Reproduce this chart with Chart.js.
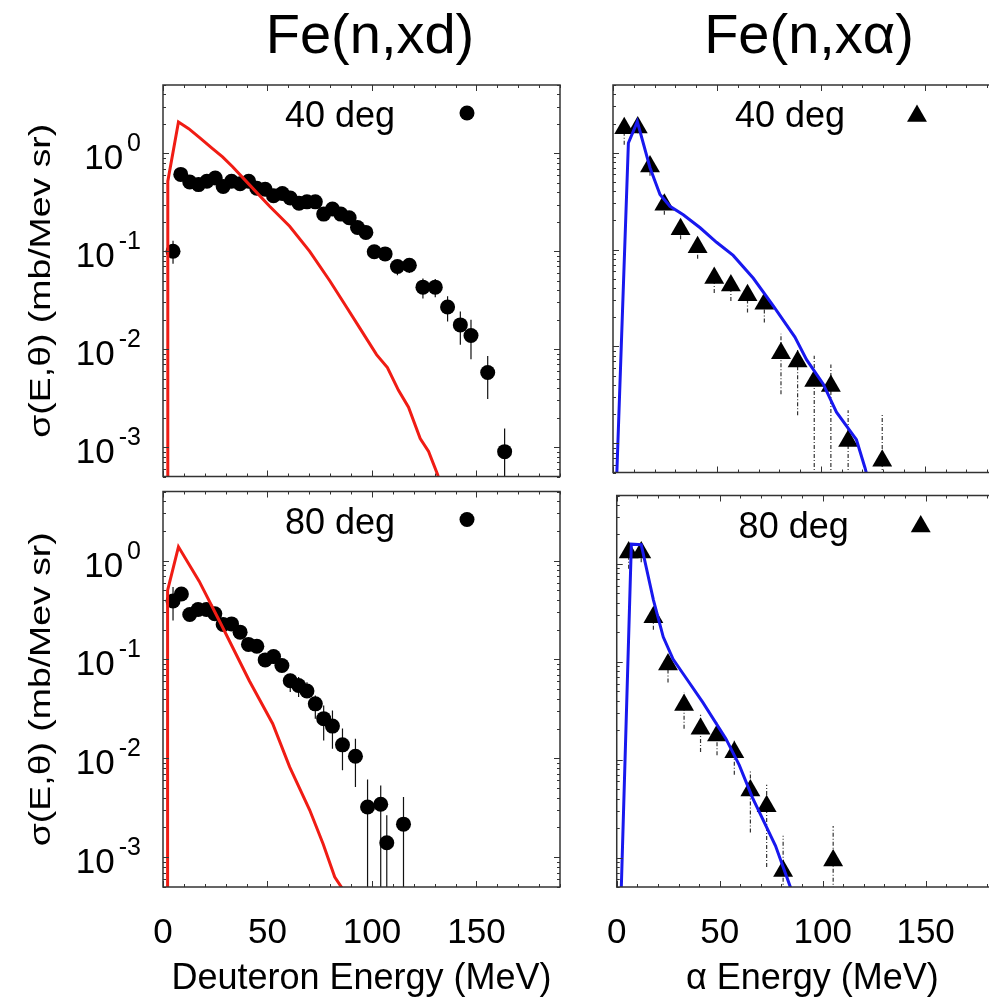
<!DOCTYPE html>
<html>
<head>
<meta charset="utf-8">
<script src="https://cdn.jsdelivr.net/npm/chart.js@4.4.1/dist/chart.umd.min.js"></script>
<style>
  html, body { margin: 0; padding: 0; background: #fff; overflow: hidden; }
  #wrap { position: relative; width: 989px; height: 1001px; overflow: hidden; background: #fff; }
  canvas { position: absolute; }
</style>
</head>
<body>
<div id="wrap">
  <canvas id="tl" width="580" height="484" style="left:0;top:0"></canvas>
  <canvas id="bl" width="580" height="517" style="left:0;top:484px"></canvas>
  <canvas id="tr" width="430" height="484" style="left:590px;top:0"></canvas>
  <canvas id="br" width="430" height="517" style="left:590px;top:484px"></canvas>
</div>
<script>
const FONT = '"Liberation Sans", Arial, Helvetica, sans-serif';

// axis setup
const xTickVals = [0, 50, 100, 150];
const yDecades = [-4, -3, -2, -1, 0];
const yLabelExp = ["0", "-1", "-2", "-3"];
const yTitle = "σ(E,θ) (mb/Mev sr)";

// Fe(n,xd) 40 deg - data points
const d40E = [4.8, 8.5, 12.8, 17.0, 21.0, 25.0, 28.8, 32.8, 36.9, 41.0, 44.9, 48.9, 52.9, 57.1, 60.9, 65.1, 68.9, 72.9, 76.9, 81.1, 85.1, 89.1, 93.1, 97.1, 101.1, 106.3, 112.2, 117.9, 124.4, 130.3, 136.2, 142.3, 147.4, 155.4, 163.5];
const d40V = [0.10, 0.61, 0.51, 0.48, 0.52, 0.56, 0.46, 0.52, 0.49, 0.52, 0.44, 0.43, 0.37, 0.39, 0.35, 0.31, 0.32, 0.32, 0.24, 0.27, 0.24, 0.22, 0.175, 0.156, 0.099, 0.094, 0.070, 0.072, 0.043, 0.043, 0.027, 0.0177, 0.0138, 0.00577, 0.000897];
const d40Lo = [0.0745, 0.55, 0.46, 0.43, 0.47, 0.50, 0.41, 0.47, 0.44, 0.47, 0.39, 0.38, 0.33, 0.35, 0.31, 0.28, 0.29, 0.29, 0.21, 0.24, 0.21, 0.195, 0.155, 0.138, 0.086, 0.082, 0.0568, 0.060, 0.033, 0.034, 0.0192, 0.0111, 0.00787, 0.0031, 0.0003];
const d40Hi = [0.128, 0.68, 0.57, 0.54, 0.58, 0.62, 0.51, 0.58, 0.55, 0.58, 0.49, 0.48, 0.41, 0.44, 0.39, 0.35, 0.36, 0.36, 0.27, 0.30, 0.27, 0.25, 0.20, 0.177, 0.113, 0.107, 0.0774, 0.083, 0.0526, 0.052, 0.0348, 0.0242, 0.020, 0.0085, 0.00155];
// model curve
const d40ModelE = [2.0, 2.3, 7.4, 12.3, 17.5, 23.7, 28.5, 33.3, 41.3, 50.9, 60.6, 70.2, 79.8, 87.8, 94.2, 102.2, 107.4, 112.7, 117.5, 123.1, 127.1, 131.5, 134];
const d40ModelV = [1e-5, 0.52, 2.09, 1.79, 1.45, 1.12, 0.92, 0.73, 0.48, 0.29, 0.18, 0.10, 0.05, 0.027, 0.0164, 0.0088, 0.0065, 0.0038, 0.00255, 0.00122, 0.0009, 0.00052, 0.0003];

// Fe(n,xd) 80 deg
const d80E = [4.8, 8.8, 12.8, 16.8, 20.8, 24.8, 28.8, 32.8, 36.9, 40.9, 44.9, 48.9, 52.9, 56.9, 60.9, 64.9, 68.9, 72.9, 76.9, 81.1, 85.9, 92.1, 97.9, 104.2, 107.1, 115.1];
const d80V = [0.39, 0.46, 0.285, 0.32, 0.32, 0.29, 0.226, 0.229, 0.189, 0.142, 0.136, 0.099, 0.107, 0.087, 0.061, 0.0546, 0.048, 0.0356, 0.0252, 0.0212, 0.0137, 0.0105, 0.00322, 0.00343, 0.0014, 0.00216];
const d80Lo = [0.248, 0.41, 0.25, 0.28, 0.28, 0.26, 0.20, 0.20, 0.167, 0.125, 0.12, 0.087, 0.094, 0.076, 0.0468, 0.0417, 0.0417, 0.0252, 0.0152, 0.0125, 0.00757, 0.00513, 0.0003, 0.0003, 0.0003, 0.0003];
const d80Hi = [0.54, 0.52, 0.32, 0.36, 0.36, 0.33, 0.255, 0.26, 0.215, 0.161, 0.154, 0.112, 0.121, 0.099, 0.0716, 0.0664, 0.059, 0.0433, 0.0343, 0.0305, 0.0200, 0.0158, 0.0061, 0.0053, 0.00266, 0.00407];
const d80ModelE = [2.1, 2.2, 7.4, 17.3, 26.9, 41.3, 52.5, 60.6, 70.2, 76.6, 82.2, 85.9, 88];
const d80ModelV = [1e-5, 0.50, 1.38, 0.62, 0.248, 0.061, 0.0224, 0.0082, 0.0030, 0.00137, 0.00063, 0.00048, 0.0003];

// Fe(n,xalpha) 40 deg
const a40E = [5.4, 11.9, 17.8, 24.7, 32.5, 40.7, 48.7, 56.7, 64.7, 72.8, 80.8, 88.8, 96.8, 104.8, 113.1, 129.5];
const a40V = [1.79, 1.82, 0.72, 0.29, 0.162, 0.106, 0.051, 0.0426, 0.0338, 0.0276, 0.0085, 0.0070, 0.0044, 0.0039, 0.00106, 0.00066];
const a40Lo = [1.21, 1.59, 0.58, 0.229, 0.128, 0.0805, 0.0356, 0.0294, 0.0224, 0.0177, 0.00322, 0.00195, 0.0003, 0.0003, 0.0003, 0.0003];
const a40Hi = [2.1, 2.1, 0.85, 0.33, 0.19, 0.12, 0.058, 0.048, 0.038, 0.031, 0.0135, 0.0092, 0.0080, 0.0065, 0.00219, 0.00198];
const a40ModelE = [1.7, 7.4, 11.7, 17.8, 22.6, 27.4, 33.8, 41.9, 49.8, 57.8, 67.5, 77.1, 87.5, 93.1, 101.1, 107.5, 117.1, 121.2, 123];
const a40ModelV = [0.0004, 1.26, 2.09, 0.70, 0.37, 0.28, 0.229, 0.168, 0.119, 0.087, 0.0506, 0.0262, 0.0125, 0.0073, 0.0041, 0.0021, 0.00109, 0.00056, 0.0004];

// Fe(n,xalpha) 80 deg
const a80E = [5.8, 11.9, 17.8, 24.9, 32.7, 40.7, 48.7, 57.1, 64.9, 72.8, 80.8, 105.1];
const a80V = [1.31, 1.31, 0.285, 0.094, 0.0362, 0.0207, 0.0177, 0.0119, 0.00483, 0.00335, 0.00073, 0.00093];
const a80Lo = [0.89, 1.04, 0.212, 0.0614, 0.0207, 0.012, 0.0111, 0.0070, 0.0018, 0.0008, 0.0003, 0.0003];
const a80Hi = [1.5, 1.5, 0.33, 0.11, 0.0486, 0.0287, 0.0242, 0.0164, 0.00757, 0.00555, 0.00167, 0.0021];
const a80ModelE = [2.1, 7.1, 11.9, 17.8, 22.6, 27.4, 33.0, 41.8, 53.0, 59.5, 65.9, 77.1, 84.3, 86];
const a80ModelV = [0.0004, 1.59, 1.57, 0.43, 0.179, 0.106, 0.0716, 0.0385, 0.0164, 0.0088, 0.0041, 0.00132, 0.0005, 0.0003];

function pts(xs, ys) {
    return xs.map((x, i) => ({ x: x, y: ys[i] }));
}

// vertical error segments, separated by gaps
function bars(xs, lo, hi) {
    const out = [];
    xs.forEach((x, i) => {
        out.push({ x: x, y: lo[i] }, { x: x, y: hi[i] }, { x: x, y: null });
    });
    return out;
}

function drawMarker(ctx, style, r, x, y) {
    ctx.beginPath();
    if (style === "triangle") {
        let rad = 0;
        ctx.moveTo(x + Math.sin(rad) * r, y - Math.cos(rad) * r);
        rad += 2 * Math.PI / 3;
        ctx.lineTo(x + Math.sin(rad) * r, y - Math.cos(rad) * r);
        rad += 2 * Math.PI / 3;
        ctx.lineTo(x + Math.sin(rad) * r, y - Math.cos(rad) * r);
        ctx.closePath();
    } else {
        ctx.arc(x, y, r, 0, Math.PI * 2);
    }
    ctx.fill();
}

const decoPlugin = {
    id: "deco",
    afterDraw(chart, args, o) {
        const ctx = chart.ctx;
        const a = chart.chartArea;
        const xs = chart.scales.x;
        const ys = chart.scales.y;
        ctx.save();

        // inward ticks on all four sides
        ctx.strokeStyle = "#333";
        ctx.lineWidth = 1;
        ctx.beginPath();
        for (let v = 0; v <= 190; v += 10) {
            const px = Math.round(xs.getPixelForValue(v)) + 0.5;
            const len = v % 50 === 0 ? 6 : 3;
            ctx.moveTo(px, a.bottom); ctx.lineTo(px, a.bottom - len);
            ctx.moveTo(px, a.top); ctx.lineTo(px, a.top + len);
        }
        yDecades.forEach(function (d) {
            for (let m = 1; m < 10; m++) {
                const v = m * Math.pow(10, d);
                if (v < ys.min || v > ys.max) continue;
                const py = Math.round(ys.getPixelForValue(v)) + 0.5;
                const len = m === 1 ? 6 : 3;
                ctx.moveTo(a.left, py); ctx.lineTo(a.left + len, py);
                ctx.moveTo(a.right, py); ctx.lineTo(a.right - len, py);
            }
        });
        ctx.stroke();

        // frame
        ctx.lineWidth = 1.5;
        ctx.strokeRect(a.left, a.top, a.right - a.left, a.bottom - a.top);

        // key
        ctx.fillStyle = "#000";
        ctx.font = "36px " + FONT;
        ctx.textAlign = "right";
        ctx.textBaseline = "alphabetic";
        ctx.fillText(o.key, a.left + 232, a.top + 42);
        drawMarker(ctx, o.marker, o.radius, a.left + 304, a.top + (o.marker === "triangle" ? 31 : 28));

        // y tick labels 10^n
        if (o.yLabels) {
            yLabelExp.forEach(function (e) {
                const py = ys.getPixelForValue(Math.pow(10, Number(e)));
                const base = py + 16;
                ctx.font = "25px " + FONT;
                ctx.textAlign = "right";
                ctx.fillText(e, 141, base - 18);
                const ew = ctx.measureText(e).width;
                ctx.font = "35px " + FONT;
                ctx.fillText("10", 141 - ew - 4, base);
            });
            // y axis title, stretched along its length
            ctx.save();
            ctx.translate(42, (a.top + a.bottom) / 2);
            ctx.rotate(-Math.PI / 2);
            ctx.font = "29px " + FONT;
            const w = ctx.measureText(yTitle).width;
            ctx.scale(314 / w, 1);
            ctx.textAlign = "center";
            ctx.textBaseline = "middle";
            ctx.fillText(yTitle, 0, 0);
            ctx.restore();
        }

        // column title
        if (o.title) {
            ctx.font = "56px " + FONT;
            ctx.textAlign = "center";
            ctx.textBaseline = "alphabetic";
            ctx.fillText(o.title, o.titleX, 53);
        }
        ctx.restore();
    }
};

function makePanel(p) {
    const xScale = {
        type: "linear",
        min: 0,
        max: 190,
        display: p.bottom,
        grid: { display: false },
        border: { display: false },
        afterBuildTicks: function (s) {
            s.ticks = xTickVals.map((v) => ({ value: v }));
        },
        ticks: {
            font: { family: FONT, size: 35 },
            color: "#000",
            padding: 17,
            maxRotation: 0,
            autoSkip: false,
        },
        title: {
            display: p.bottom,
            text: p.xTitle,
            font: { family: FONT, size: 36 },
            color: "#000",
            padding: { top: 0, bottom: 0 },
        },
        afterFit: function (s) {
            if (p.bottom) s.height = 114;
        },
    };
    return new Chart(document.getElementById(p.id), {
        type: "scatter",
        data: {
            datasets: [
                {
                    label: "model",
                    data: pts(p.modelE, p.modelV),
                    showLine: true,
                    borderColor: p.lineColor,
                    borderWidth: 3,
                    pointRadius: 0,
                    tension: 0,
                },
                {
                    label: p.key,
                    data: pts(p.e, p.v),
                    pointStyle: p.marker,
                    pointRadius: p.radius,
                    backgroundColor: "#000",
                    borderWidth: 0,
                    showLine: false,
                },
                {
                    label: "errors",
                    data: bars(p.e, p.lo, p.hi),
                    showLine: true,
                    spanGaps: false,
                    borderColor: p.errColor,
                    borderWidth: p.errWidth,
                    borderDash: p.errDash,
                    pointRadius: 0,
                },
            ],
        },
        options: {
            responsive: false,
            animation: false,
            events: [],
            layout: { padding: p.pad },
            plugins: {
                legend: { display: false },
                tooltip: { enabled: false },
                deco: {
                    key: p.key,
                    marker: p.marker,
                    radius: p.radius,
                    yLabels: p.yLabels,
                    title: p.title,
                    titleX: p.titleX,
                },
            },
            scales: {
                x: xScale,
                y: { type: "logarithmic", min: 5e-4, max: 5, display: false },
            },
        },
        plugins: [decoPlugin],
    });
}

const red = "#f01c14";
const blue = "#1818ee";

makePanel({
    id: "tl", bottom: false, pad: { left: 163, right: 20, top: 85, bottom: 6 },
    e: d40E, v: d40V, lo: d40Lo, hi: d40Hi, modelE: d40ModelE, modelV: d40ModelV,
    lineColor: red, marker: "circle", radius: 7.5, errColor: "#111", errWidth: 1.2, errDash: [],
    key: "40 deg", yLabels: true, title: "Fe(n,xd)", titleX: 370,
});
makePanel({
    id: "bl", bottom: true, pad: { left: 163, right: 20, top: 6, bottom: 0 },
    e: d80E, v: d80V, lo: d80Lo, hi: d80Hi, modelE: d80ModelE, modelV: d80ModelV,
    lineColor: red, marker: "circle", radius: 7.5, errColor: "#111", errWidth: 1.2, errDash: [],
    key: "80 deg", yLabels: true, xTitle: "Deuteron Energy (MeV)",
});
makePanel({
    id: "tr", bottom: false, pad: { left: 23, right: 12, top: 85, bottom: 6 },
    e: a40E, v: a40V, lo: a40Lo, hi: a40Hi, modelE: a40ModelE, modelV: a40ModelV,
    lineColor: blue, marker: "triangle", radius: 11.5, errColor: "#333", errWidth: 1.2, errDash: [4, 2, 1, 2],
    key: "40 deg", yLabels: false, title: "Fe(n,xα)", titleX: 219,
});
makePanel({
    id: "br", bottom: true, pad: { left: 23, right: 12, top: 6, bottom: 0 },
    e: a80E, v: a80V, lo: a80Lo, hi: a80Hi, modelE: a80ModelE, modelV: a80ModelV,
    lineColor: blue, marker: "triangle", radius: 11.5, errColor: "#333", errWidth: 1.2, errDash: [4, 2, 1, 2],
    key: "80 deg", yLabels: false, xTitle: "α Energy (MeV)",
});
</script>
</body>
</html>
